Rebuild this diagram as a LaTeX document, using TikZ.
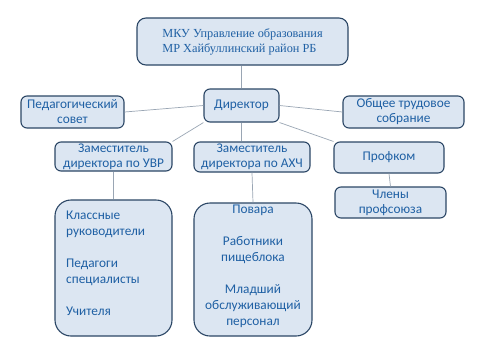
\documentclass[tikz,border=0pt]{standalone}
\usepackage{fontspec}
\setmainfont{Carlito}
\newfontfamily\serifrm{Liberation Serif}
\definecolor{boxfill}{HTML}{DCE6F2}
\definecolor{boxline}{HTML}{2C4766}
\definecolor{txt}{HTML}{1F60A4}
\definecolor{conn}{HTML}{9AA6B4}
\begin{document}
\begin{tikzpicture}[x=1pt,y=-1pt,
  box/.style={draw=boxline, line width=1.1pt, fill=boxfill, rounded corners=6pt,
    text=txt, font=\fontsize{13.3}{15}\selectfont, align=center, inner sep=0pt},
  bigbox/.style={box, rounded corners=16pt},
  conline/.style={draw=conn, line width=0.7pt}]
\useasboundingbox (0,0) rectangle (480,360);
\fill[white] (0,0) rectangle (480,360);
\node[box, rounded corners=9pt, minimum width=211pt, minimum height=47pt, align=left,
  font=\serifrm\fontsize{12.3}{15}\selectfont] (top) at (242.5,41.5)
  {МКУ Управление образования\\МР Хайбуллинский район РБ};
\node[box, minimum width=75pt, minimum height=33pt] (dir) at (241.5,105.5) {Директор};
\node[box, minimum width=103pt, minimum height=32pt] (ped) at (72.5,112) {Педагогический\\совет};
\node[box, minimum width=121pt, minimum height=32pt] (obs) at (403.5,112) {Общее трудовое\\собрание};
\node[box, minimum width=117pt, minimum height=29pt] (uvr) at (113.5,156.5) {Заместитель\\директора по УВР};
\node[box, minimum width=116pt, minimum height=30pt] (ahch) at (252,157) {Заместитель\\директора по АХЧ};
\node[box, minimum width=110pt, minimum height=31pt] (prof) at (389,157.5) {Профком};
\node[box, minimum width=111pt, minimum height=31pt] (chl) at (390.5,202.5) {Члены\\профсоюза};
\node[bigbox, minimum width=117pt, minimum height=136pt] (kl) at (113.5,268) {};
\node[text=txt, font=\fontsize{13.3}{16}\selectfont, align=left, anchor=north west, inner sep=0pt]
  (kltext) at (66,211) {Классные\\руководители\\[16pt]Педагоги\\специалисты\\[16pt]Учителя};
\node[bigbox, minimum width=118pt, minimum height=133pt] (pov) at (253,269.5) {};
\node[text=txt, font=\fontsize{13.3}{16}\selectfont, align=center, anchor=north, inner sep=0pt]
  (povtext) at (253,205) {Повара\\[16pt]Работники\\пищеблока\\[16pt]Младший\\обслуживающий\\персонал};
\draw[conline] (dir.north) -- (top.south -| dir.north);
\draw[conline] (dir.west) -- (ped.east);
\draw[conline] (dir.east) -- (obs.west);
\draw[conline] (dir.south west) -- (uvr.north east);
\draw[conline] (dir.south east) -- (prof.north west);
\draw[conline] (dir.south) -- (dir.south |- ahch.north);
\draw[conline] (uvr.south) -- (kl.north);
\draw[conline] (ahch.south) -- (pov.north);
\draw[conline] (prof.south) -- (chl.north);
\end{tikzpicture}
\end{document}
